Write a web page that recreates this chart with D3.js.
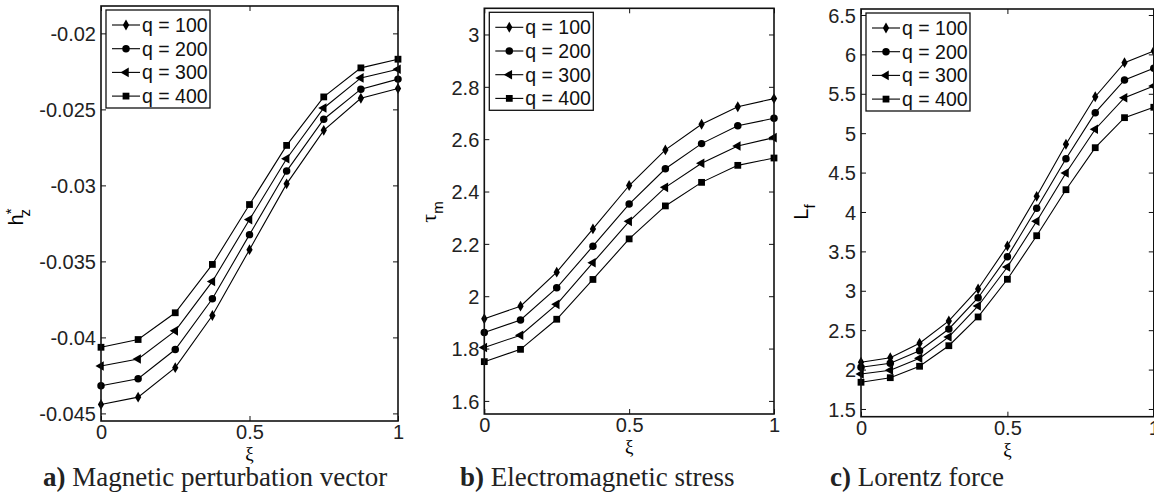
<!DOCTYPE html>
<html>
<head>
<meta charset="utf-8">
<script src="https://cdnjs.cloudflare.com/ajax/libs/d3/7.8.5/d3.min.js"></script>
<style>
body { margin: 0; background: #fff; }
svg { display: block; }
</style>
</head>
<body>
<div class="content"></div>
<script>
var width = 1154, height = 498;

// data
var xiAB = [0, 0.125, 0.25, 0.375, 0.5, 0.625, 0.75, 0.875, 1];
var xiC = [0, 0.1, 0.2, 0.3, 0.4, 0.5, 0.6, 0.7, 0.8, 0.9, 1];
var qLabels = ["q = 100", "q = 200", "q = 300", "q = 400"];
var markers = ["diamond", "circle", "triangle", "square"];

var hz100 = [-0.04441, -0.04393, -0.04199, -0.03856, -0.03423, -0.0299, -0.02638, -0.02427, -0.02363];
var hz200 = [-0.04318, -0.04272, -0.0408, -0.03746, -0.03324, -0.02906, -0.02565, -0.02367, -0.02301];
var hz300 = [-0.04188, -0.04142, -0.03957, -0.03632, -0.03225, -0.02825, -0.02491, -0.02293, -0.02236];
var hz400 = [-0.04065, -0.04014, -0.03838, -0.0352, -0.03126, -0.02737, -0.02418, -0.02227, -0.0217];

var tau100 = [1.914, 1.962, 2.092, 2.257, 2.423, 2.559, 2.657, 2.724, 2.755];
var tau200 = [1.861, 1.909, 2.032, 2.191, 2.352, 2.487, 2.583, 2.651, 2.68];
var tau300 = [1.804, 1.851, 1.969, 2.128, 2.286, 2.416, 2.508, 2.574, 2.606];
var tau400 = [1.75, 1.797, 1.912, 2.064, 2.219, 2.345, 2.435, 2.5, 2.528];

var lf100 = [2.093, 2.151, 2.334, 2.617, 3.023, 3.569, 4.199, 4.859, 5.463, 5.895, 6.043];
var lf200 = [2.029, 2.08, 2.24, 2.515, 2.912, 3.433, 4.047, 4.676, 5.26, 5.675, 5.824];
var lf300 = [1.944, 1.991, 2.143, 2.414, 2.807, 3.302, 3.882, 4.495, 5.05, 5.45, 5.599];
var lf400 = [1.839, 1.897, 2.042, 2.303, 2.668, 3.146, 3.699, 4.283, 4.816, 5.197, 5.329];

var xTicks = [0, 0.5, 1];
var xTickLabels = ["0", "0.5", "1"];
var hzTicks = [-0.045, -0.04, -0.035, -0.03, -0.025, -0.02];
var hzTickLabels = ["-0.045", "-0.04", "-0.035", "-0.03", "-0.025", "-0.02"];
var tauTicks = [1.6, 1.8, 2, 2.2, 2.4, 2.6, 2.8, 3];
var tauTickLabels = ["1.6", "1.8", "2", "2.2", "2.4", "2.6", "2.8", "3"];
var lfTicks = [1.5, 2, 2.5, 3, 3.5, 4, 4.5, 5, 5.5, 6, 6.5];
var lfTickLabels = ["1.5", "2", "2.5", "3", "3.5", "4", "4.5", "5", "5.5", "6", "6.5"];

var panels = [
	{xi: xiAB, series: [hz100, hz200, hz300, hz400], yDomain: [-0.0455, -0.0182],
	 yTicks: hzTicks, yTickLabels: hzTickLabels,
	 box: {left: 101, right: 398, top: 6, bottom: 421},
	 ylab: {main: "h", sup: "*", sub: "z", x: 23, y: 217},
	 capBold: "a)", capText: " Magnetic perturbation vector", capX: 43},
	{xi: xiAB, series: [tau100, tau200, tau300, tau400], yDomain: [1.55, 3.1],
	 yTicks: tauTicks, yTickLabels: tauTickLabels,
	 box: {left: 484.3, right: 774, top: 8.3, bottom: 414},
	 ylab: {main: "\u03c4", sub: "m", x: 436, y: 212, greek: true},
	 capBold: "b)", capText: " Electromagnetic stress", capX: 460},
	{xi: xiC, series: [lf100, lf200, lf300, lf400], yDomain: [1.402, 6.576],
	 yTicks: lfTicks, yTickLabels: lfTickLabels,
	 box: {left: 861, right: 1153.8, top: 9, bottom: 416.7},
	 ylab: {main: "L", sub: "f", x: 808, y: 212},
	 capBold: "c)", capText: " Lorentz force", capX: 830}
];

var svg = d3.select(".content").append("svg")
	.attr("width", width)
	.attr("height", height);

var tickFont = "'Liberation Sans', Arial, Helvetica, sans-serif";
var serifFont = "'Liberation Serif', 'Times New Roman', serif";

function markerPath(type) {
	if (type == "diamond") return d3.symbol().type(d3.symbolDiamond).size(34)();
	if (type == "circle") return d3.symbol().type(d3.symbolCircle).size(44)();
	if (type == "triangle") return d3.symbol().type(d3.symbolTriangle).size(40)();
	return d3.symbol().type(d3.symbolSquare).size(46)();
}

function placeMarker(type, x, y) {
	var t = "translate(" + x + "," + y + ")";
	if (type == "triangle") t += " rotate(-90)";
	return t;
}

panels.forEach(function(p) {
	var b = p.box;
	var x = d3.scaleLinear().domain([0, 1]).range([b.left, b.right]);
	var y = d3.scaleLinear().domain(p.yDomain).range([b.bottom, b.top]);
	var g = svg.append("g");

	// lines and markers
	var line = d3.line()
		.x(function(d, i) { return x(p.xi[i]); })
		.y(function(d) { return y(d); });

	p.series.forEach(function(s, k) {
		g.append("path")
			.attr("d", line(s))
			.attr("fill", "none")
			.attr("stroke", "#000")
			.attr("stroke-width", 1.1);
		g.selectAll(".m" + k)
			.data(s)
			.enter()
			.append("path")
			.attr("d", markerPath(markers[k]))
			.attr("transform", function(d, i) { return placeMarker(markers[k], x(p.xi[i]), y(d)); })
			.attr("fill", "#000");
	});

	// axes: ticks inside on all four sides
	var tl = 5;
	g.append("g")
		.attr("transform", "translate(0," + b.bottom + ")")
		.call(d3.axisBottom(x).tickValues(xTicks).tickSize(-tl).tickFormat(function(d, i) { return xTickLabels[i]; }))
		.call(function(ax) {
			ax.select(".domain").remove();
			ax.selectAll("text").attr("dy", null).attr("y", 18)
				.style("font-family", tickFont).style("font-size", "20px").attr("fill", "#222");
		});
	g.append("g")
		.attr("transform", "translate(0," + b.top + ")")
		.call(d3.axisTop(x).tickValues(xTicks).tickSize(-tl).tickFormat(""))
		.call(function(ax) { ax.select(".domain").remove(); });
	g.append("g")
		.attr("transform", "translate(" + b.left + ",0)")
		.call(d3.axisLeft(y).tickValues(p.yTicks).tickSize(-tl).tickFormat(function(d, i) { return p.yTickLabels[i]; }))
		.call(function(ax) {
			ax.select(".domain").remove();
			ax.selectAll("text").attr("x", -5).attr("dy", "0.36em")
				.style("font-family", tickFont).style("font-size", "20px").attr("fill", "#222");
		});
	g.append("g")
		.attr("transform", "translate(" + b.right + ",0)")
		.call(d3.axisRight(y).tickValues(p.yTicks).tickSize(-tl).tickFormat(""))
		.call(function(ax) { ax.select(".domain").remove(); });
	g.selectAll(".tick line").attr("stroke", "#111").attr("stroke-width", 1);

	g.append("rect")
		.attr("x", b.left).attr("y", b.top)
		.attr("width", b.right - b.left).attr("height", b.bottom - b.top)
		.attr("fill", "none").attr("stroke", "#111").attr("stroke-width", 1.6);

	// x label
	g.append("text")
		.attr("x", x(0.5)).attr("y", b.bottom + 39)
		.attr("text-anchor", "middle")
		.style("font-family", serifFont).style("font-size", "19px")
		.text("\u03be");

	// y label
	var yl = g.append("text")
		.attr("transform", "translate(" + p.ylab.x + "," + p.ylab.y + ") rotate(-90)")
		.attr("text-anchor", "middle")
		.style("font-family", p.ylab.greek ? serifFont : tickFont)
		.style("font-size", p.ylab.greek ? "22px" : "20px");
	yl.append("tspan").text(p.ylab.main);
	if (p.ylab.sup) {
		yl.append("tspan").attr("dy", -7).style("font-size", "15px").text(p.ylab.sup);
		yl.append("tspan").attr("dx", -8).attr("dy", 14).style("font-size", "15px").text(p.ylab.sub);
	} else {
		yl.append("tspan").attr("dy", 7).style("font-family", tickFont).style("font-size", "15px").text(p.ylab.sub);
	}

	// legend
	var lx = b.left + 5, ly = b.top + 4;
	var lg = g.append("g").attr("transform", "translate(" + lx + "," + ly + ")");
	lg.append("rect")
		.attr("width", 104).attr("height", 98)
		.attr("fill", "#fff").attr("stroke", "#111").attr("stroke-width", 1.3);
	qLabels.forEach(function(lab, k) {
		var ry = 15 + k * 23.7;
		lg.append("line")
			.attr("x1", 6).attr("x2", 34).attr("y1", ry).attr("y2", ry)
			.attr("stroke", "#000").attr("stroke-width", 1.1);
		lg.append("path")
			.attr("d", markerPath(markers[k]))
			.attr("transform", placeMarker(markers[k], 20, ry))
			.attr("fill", "#000");
		lg.append("text")
			.attr("x", 36).attr("y", ry).attr("dy", "0.36em")
			.style("font-family", tickFont).style("font-size", "19.5px").attr("fill", "#111")
			.text(lab);
	});

	// caption
	var cap = svg.append("text")
		.attr("x", p.capX).attr("y", 486)
		.style("font-family", serifFont).style("font-size", "27px").attr("fill", "#222");
	cap.append("tspan").style("font-weight", "bold").text(p.capBold);
	cap.append("tspan").text(p.capText);
});
</script>
</body>
</html>
